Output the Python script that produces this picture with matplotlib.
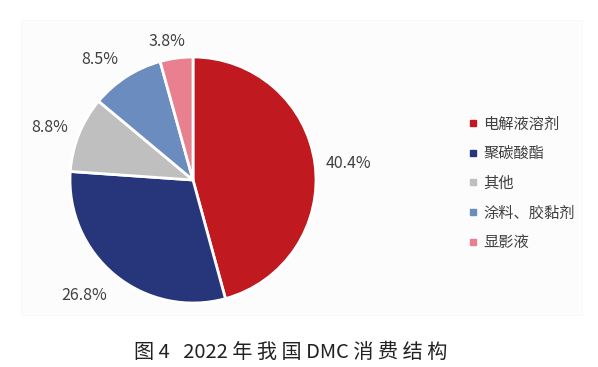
import matplotlib
matplotlib.use("Agg")
import matplotlib.pyplot as plt
from matplotlib.lines import Line2D
from matplotlib.patches import Rectangle

plt.rcParams["font.family"] = ["Noto Sans CJK SC", "DejaVu Sans"]

# ---- 数据 ----
categories = ["电解液溶剂", "聚碳酸酯", "其他", "涂料、胶黏剂", "显影液"]
values = [40.4, 26.8, 8.8, 8.5, 3.8]
colors = ["#c0191f", "#27357a", "#bfbfbf", "#6a8cbf", "#e9808f"]
caption = "图 4   2022 年 我 国 DMC 消 费 结 构"

# 数据标签位置（像素，左上为原点）
label_pos = [(348, 163), (84, 296), (50, 128), (100, 60), (167, 42)]

W, H = 598, 367
fig = plt.figure(figsize=(W / 100, H / 100), dpi=100)
ax = fig.add_axes([0, 0, 1, 1])

# 浅色图表区背景
ax.add_patch(Rectangle((21, H - 315), 561, 295, facecolor="#fcfcfc",
                       edgecolor="#f6f6f6", linewidth=0.5, zorder=0))

wedges, texts = ax.pie(
    values, colors=colors, startangle=90, counterclock=False,
    center=(193, H - 180), radius=123,
    labels=[f"{v}%" for v in values],
    wedgeprops=dict(edgecolor="white", linewidth=2),
    textprops=dict(fontsize=11.5, color="#404040"),
)
for t, (px, py) in zip(texts, label_pos):
    t.set_position((px, H - py))
    t.set_ha("center")
    t.set_va("center")

ax.set_xlim(0, W)
ax.set_ylim(0, H)
ax.set_aspect("auto")
ax.axis("off")

# 图例
handles = [Line2D([], [], marker="s", linestyle="none", markersize=5,
                  markerfacecolor=c, markeredgecolor=c) for c in colors]
fig.legend(handles, categories, loc="upper left",
           bbox_to_anchor=(455 / W, 1 - 102 / H), frameon=False,
           fontsize=11, handlelength=0.6, handletextpad=0.35,
           labelspacing=0.82, labelcolor="#404040")

# 图题
fig.text(291 / W, 1 - 352 / H, caption, ha="center", va="center",
         fontsize=14.5, color="#222222")

fig.savefig("out.png", dpi=100)
